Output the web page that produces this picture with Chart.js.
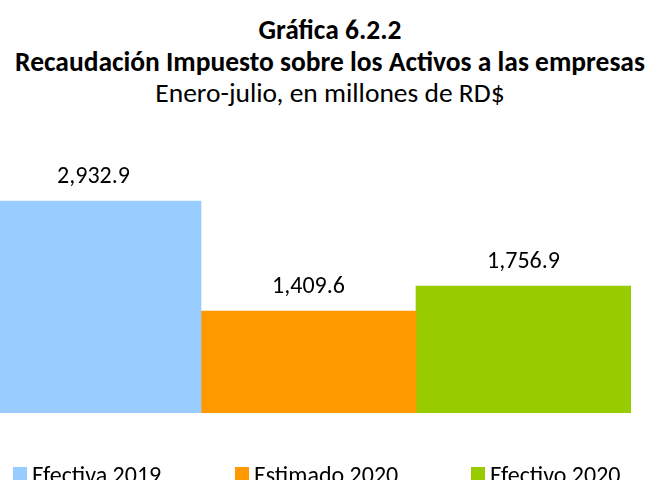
<!DOCTYPE html>
<html>
<head>
<meta charset="utf-8">
<script src="https://cdn.jsdelivr.net/npm/chart.js@4"></script>
<style>
  html, body { margin: 0; padding: 0; background: #fff; overflow: hidden; width: 652px; height: 480px; position: relative; }
  .t { position: absolute; left: 0; width: 660px; text-align: center; color: #000; font-family: Carlito, Calibri, Lato, sans-serif; white-space: nowrap; font-size: 27.5px; line-height: 32px; }
  #t1 { top: 14px; font-weight: bold; }
  #t2 { top: 46px; font-weight: bold; }
  #t3 { top: 77px; }
  #wrap { position: absolute; left: -14px; top: 0; width: 666px; height: 480px; }
  .lg { position: absolute; top: 463px; height: 30px; white-space: nowrap; font-family: Carlito, Calibri, Lato, sans-serif; font-size: 24px; line-height: 24px; color: #000; }
  .lg .box { position: absolute; left: 0; top: 4px; width: 14px; height: 14px; }
  .lg .txt { position: absolute; left: 19px; top: 0; }
</style>
</head>
<body>
<div class="t" id="t1">Gráfica 6.2.2</div>
<div class="t" id="t2">Recaudación Impuesto sobre los Activos a las empresas</div>
<div class="t" id="t3">Enero-julio, en millones de RD$</div>
<div id="wrap"><canvas id="c" width="666" height="480"></canvas></div>
<div id="legend"></div>
<script>
const categories = ["Enero-julio"];
const seriesNames = ["Efectiva 2019", "Estimado 2020", "Efectivo 2020"];
const efectiva2019 = [2932.9];
const estimado2020 = [1409.6];
const efectivo2020 = [1756.9];
const seriesColors = ["#99CCFF", "#FF9900", "#99CC00"];

const FONT = "Carlito, Calibri, Lato, sans-serif";

// legend (built from the series arrays)
const legendX = [13, 235, 471];
const legendEl = document.getElementById("legend");
seriesNames.forEach((name, i) => {
  const item = document.createElement("div");
  item.className = "lg";
  item.style.left = legendX[i] + "px";
  const box = document.createElement("span");
  box.className = "box";
  box.style.background = seriesColors[i];
  const txt = document.createElement("span");
  txt.className = "txt";
  txt.textContent = name;
  item.appendChild(box);
  item.appendChild(txt);
  legendEl.appendChild(item);
});

const valueLabels = {
  id: "valueLabels",
  afterDatasetsDraw(chart) {
    const ctx = chart.ctx;
    ctx.save();
    ctx.font = "24px " + FONT;
    ctx.fillStyle = "#000";
    ctx.textAlign = "center";
    ctx.textBaseline = "alphabetic";
    chart.data.datasets.forEach((ds, i) => {
      const meta = chart.getDatasetMeta(i);
      meta.data.forEach((bar, j) => {
        const v = ds.data[j];
        const txt = v.toLocaleString("en-US", { minimumFractionDigits: 1, maximumFractionDigits: 1 });
        ctx.fillText(txt, bar.x, bar.y - 18);
      });
    });
    ctx.restore();
  }
};

new Chart(document.getElementById("c"), {
  type: "bar",
  data: {
    labels: categories,
    datasets: [
      { label: seriesNames[0], data: efectiva2019, backgroundColor: seriesColors[0] },
      { label: seriesNames[1], data: estimado2020, backgroundColor: seriesColors[1] },
      { label: seriesNames[2], data: efectivo2020, backgroundColor: seriesColors[2] }
    ]
  },
  options: {
    responsive: false,
    animation: false,
    events: [],
    layout: { padding: { top: 160, right: 21, left: 0, bottom: 67 } },
    datasets: { bar: { barPercentage: 1, categoryPercentage: 1 } },
    scales: {
      x: { display: false },
      y: { display: false, min: 0, max: 3500 }
    },
    plugins: {
      tooltip: { enabled: false },
      title: { display: false },
      legend: { display: false }
    }
  },
  plugins: [valueLabels]
});
</script>
</body>
</html>
